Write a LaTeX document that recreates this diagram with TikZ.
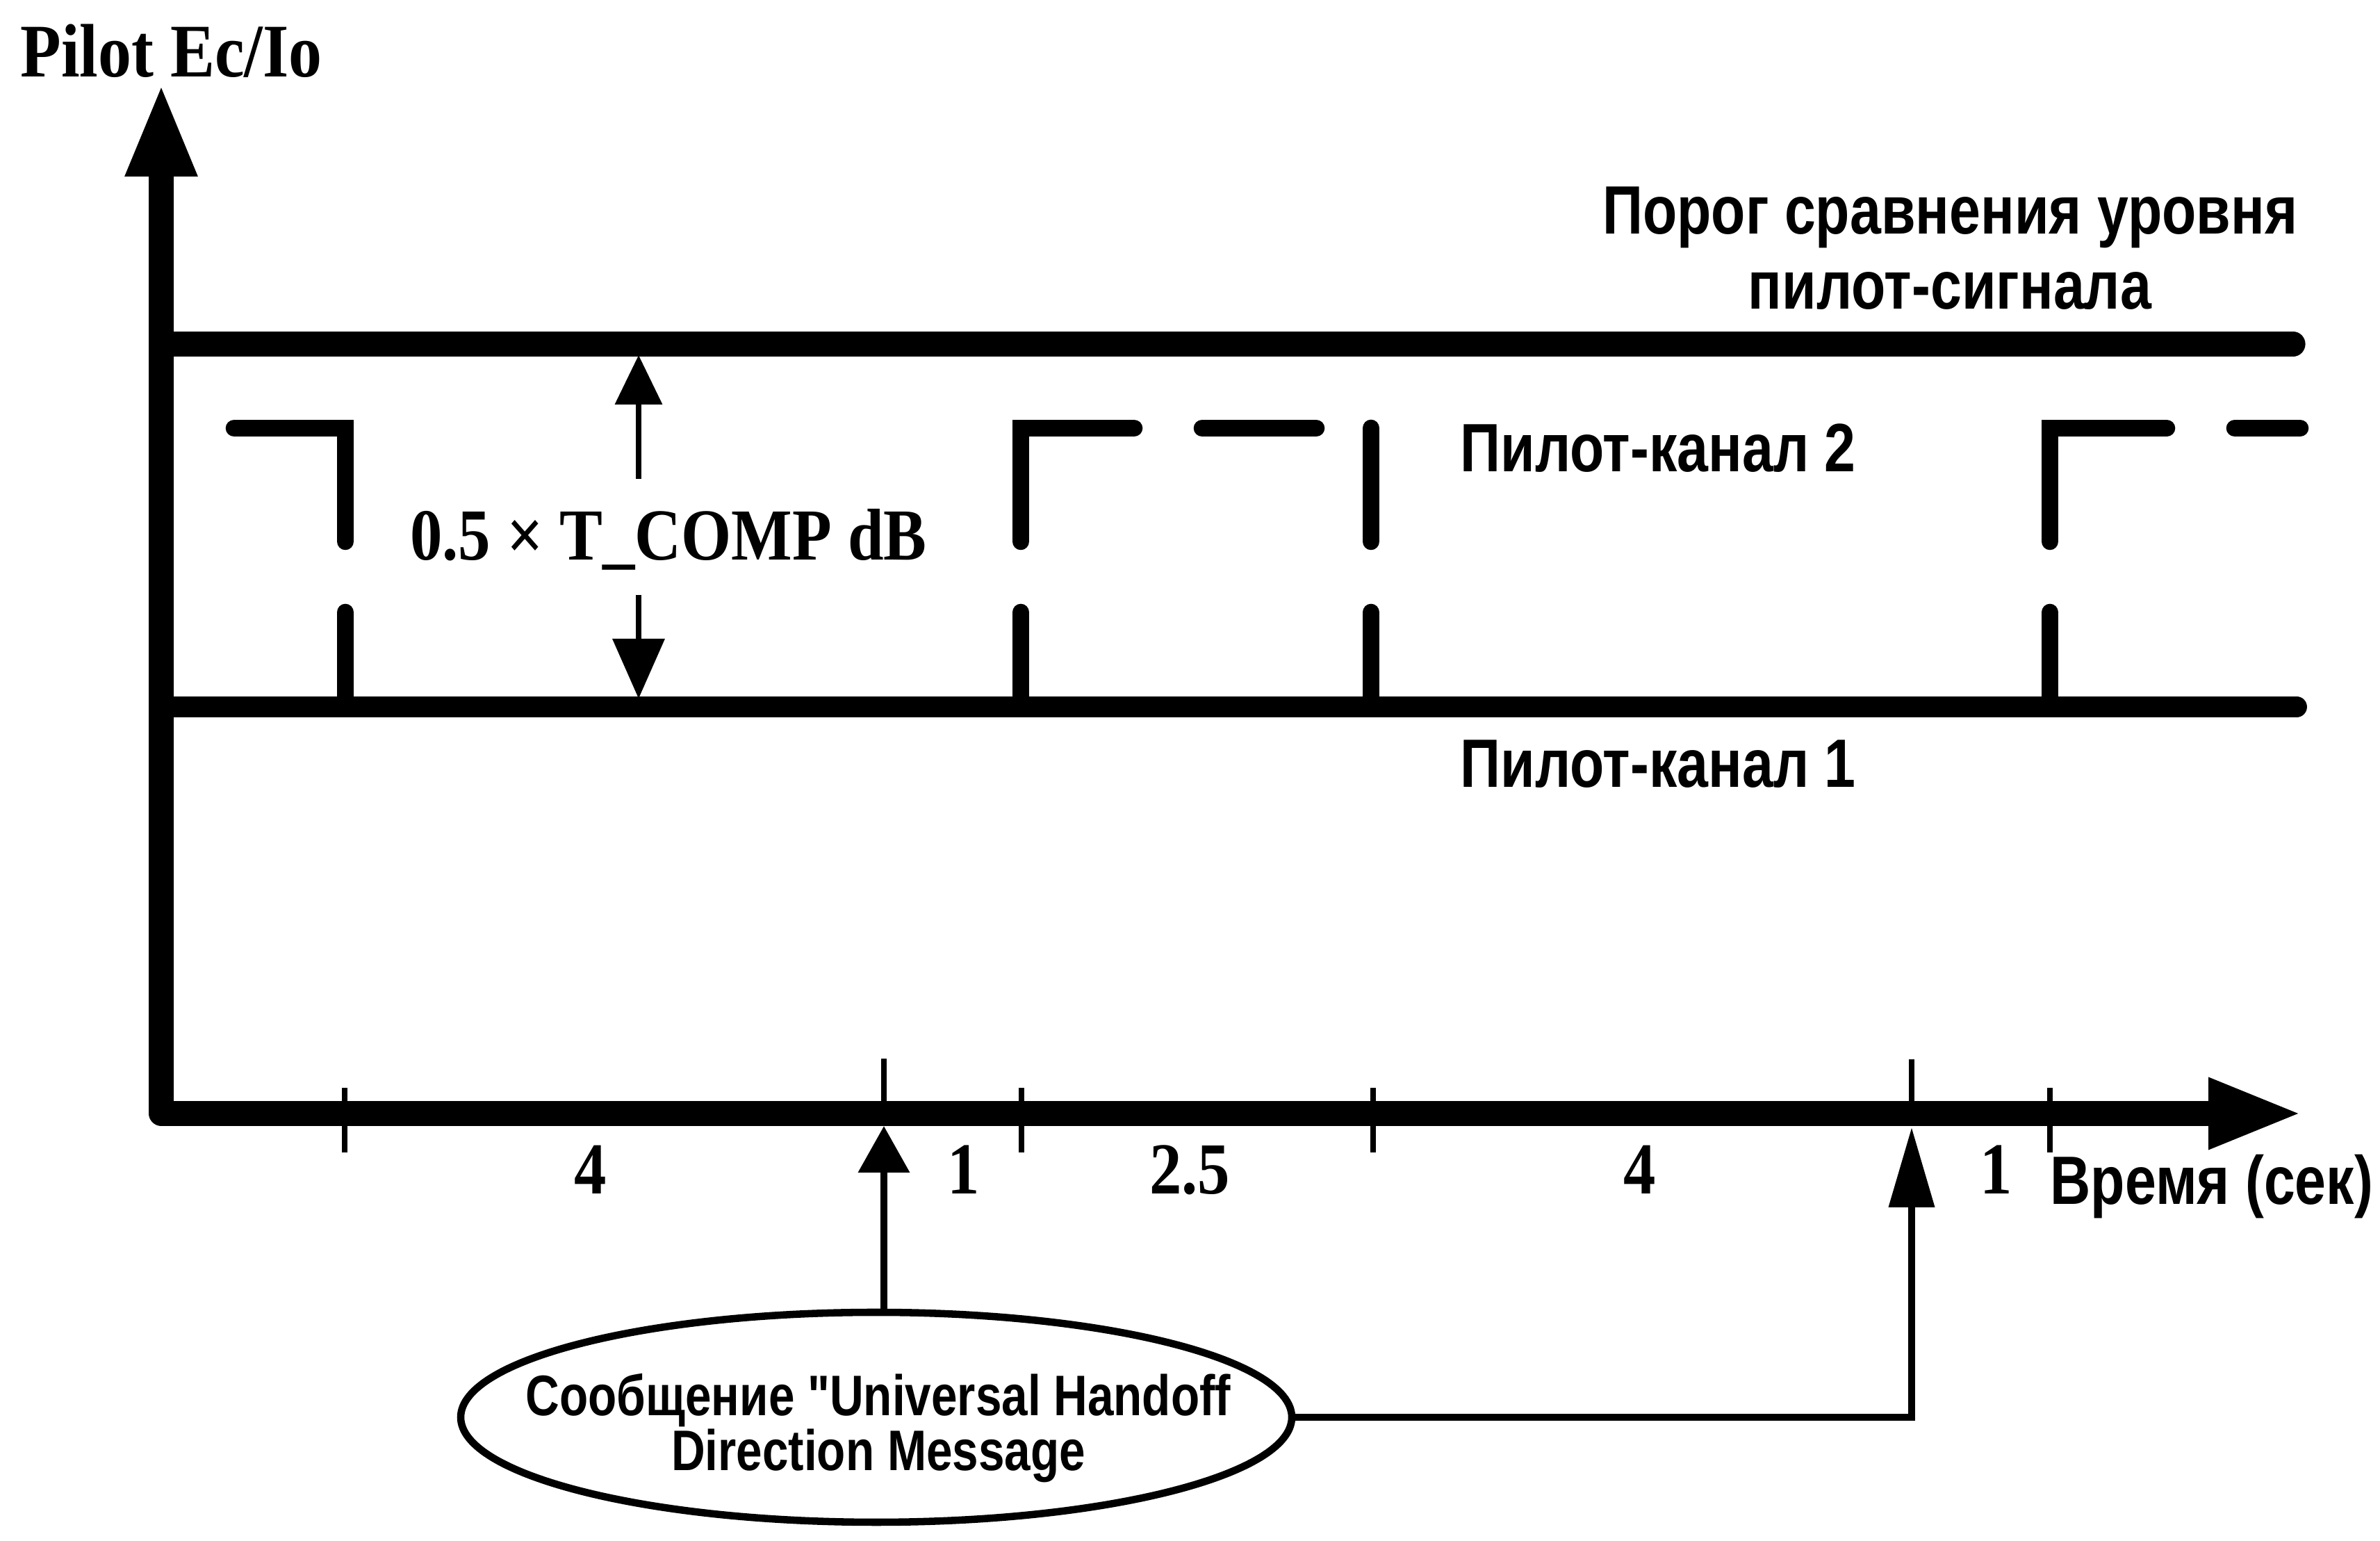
\documentclass[tikz,border=0pt]{standalone}
\usepackage{fontspec}
\setmainfont{Liberation Serif}[FakeStretch=0.88]
\newfontfamily\narrowsans{Liberation Sans}[FakeStretch=0.82]
\usetikzlibrary{arrows.meta,shapes.geometric}
\tikzset{
  axisline/.style={line width=10pt, line join=round,
    {Triangle[length=1.35cm,width=0.94cm]}-{Triangle[length=1.37cm,width=0.93cm]}},
  levelline/.style={line width=#1, line cap=round},
  chanline/.style={line width=7pt, line cap=round},
  tickline/.style={line width=2.4pt},
  msgline/.style={line width=3pt},
  serif/.style={font=\fontsize{30pt}{33pt}\selectfont\bfseries, inner sep=0pt},
  sans/.style={font=\narrowsans\fontsize{28pt}{31pt}\selectfont\bfseries, inner sep=0pt},
  msgbox/.style={draw, ellipse, line width=3pt, minimum width=11.96cm, minimum height=3.02cm, inner sep=0pt},
  msgtext/.style={font=\narrowsans\fontsize{23.4pt}{22.5pt}\selectfont\bfseries, align=center, inner sep=0pt}
}
\begin{document}
\begin{tikzpicture}
\useasboundingbox (0,0) rectangle (34.25,22.17);
\coordinate (a1) at (12.72,5.97);
\coordinate (a2) at (27.51,5.95);
\draw[axisline] (2.32,20.98) |- (33.15,6.15);
\draw[levelline=10pt] (2.32,17.22) -- (33.00,17.22);
\draw[levelline=8.5pt] (2.32,12.00) -- (33.05,12.00);
\draw[chanline] (3.37,16.01) -| (4.97,14.38);
\draw[chanline] (4.97,13.36) -- (4.97,12.00);
\draw[chanline] (14.69,12.00) -- (14.69,13.36);
\draw[chanline] (14.69,14.38) |- (16.32,16.01);
\draw[chanline] (17.30,16.01) -- (18.94,16.01);
\draw[chanline] (19.73,16.01) -- (19.73,14.38);
\draw[chanline] (19.73,13.36) -- (19.73,12.00);
\draw[chanline] (29.50,12.00) -- (29.50,13.36);
\draw[chanline] (29.50,14.38) |- (31.18,16.01);
\draw[chanline] (32.16,16.01) -- (33.10,16.01);
\foreach \x in {4.96,14.70,19.76,29.50}
  \draw[tickline] (\x,5.59) -- (\x,6.52);
\draw[tickline] (12.72,6.15) -- (12.72,6.94);
\draw[tickline] (27.51,6.15) -- (27.51,6.93);
\draw[line width=2pt, -{Triangle[length=0.71cm,width=0.67cm]}] (9.19,15.28) -- (9.19,17.06);
\draw[line width=2pt, -{Triangle[length=0.86cm,width=0.74cm]}] (9.19,13.61) -- (9.19,12.12);
\node[serif, font=\fontsize{31pt}{34pt}\selectfont\bfseries, anchor=base west] (ylbl) at (0.29,21.06) {Pilot Ec/Io};
\node[sans, align=center, anchor=base] (thrlbl) at (28.06,17.72) {Порог сравнения уровня\\пилот-сигнала};
\node[sans, anchor=base west] (ch2lbl) at (21.01,15.38) {Пилот-канал 2};
\node[sans, anchor=base west] (ch1lbl) at (21.01,10.84) {Пилот-канал 1};
\node[serif, anchor=base] (tcomp) at (9.62,14.11) {0.5 × T\_COMP dB};
\node[serif, anchor=base] (d1) at (8.50,4.99) {4};
\node[serif, anchor=base] (d2) at (13.87,4.99) {1};
\node[serif, anchor=base] (d3) at (17.12,4.99) {2.5};
\node[serif, anchor=base] (d4) at (23.60,4.99) {4};
\node[serif, anchor=base] (d5) at (28.73,4.99) {1};
\node[sans, anchor=base west] (tlbl) at (29.50,4.84) {Время (сек)};
\node[msgbox] (msg) at (12.61,1.78) {};
\node[msgtext] (msgtxt) at (12.64,1.62) {Сообщение "Universal Handoff\\Direction Message};
\draw[msgline, -{Triangle[length=0.67cm,width=0.72cm]}] (msg.north -| a1) -- (a1);
\draw[msgline, -{Triangle[length=1.15cm,width=0.64cm]}] (msg.east) -| (a2);
\end{tikzpicture}
\end{document}
